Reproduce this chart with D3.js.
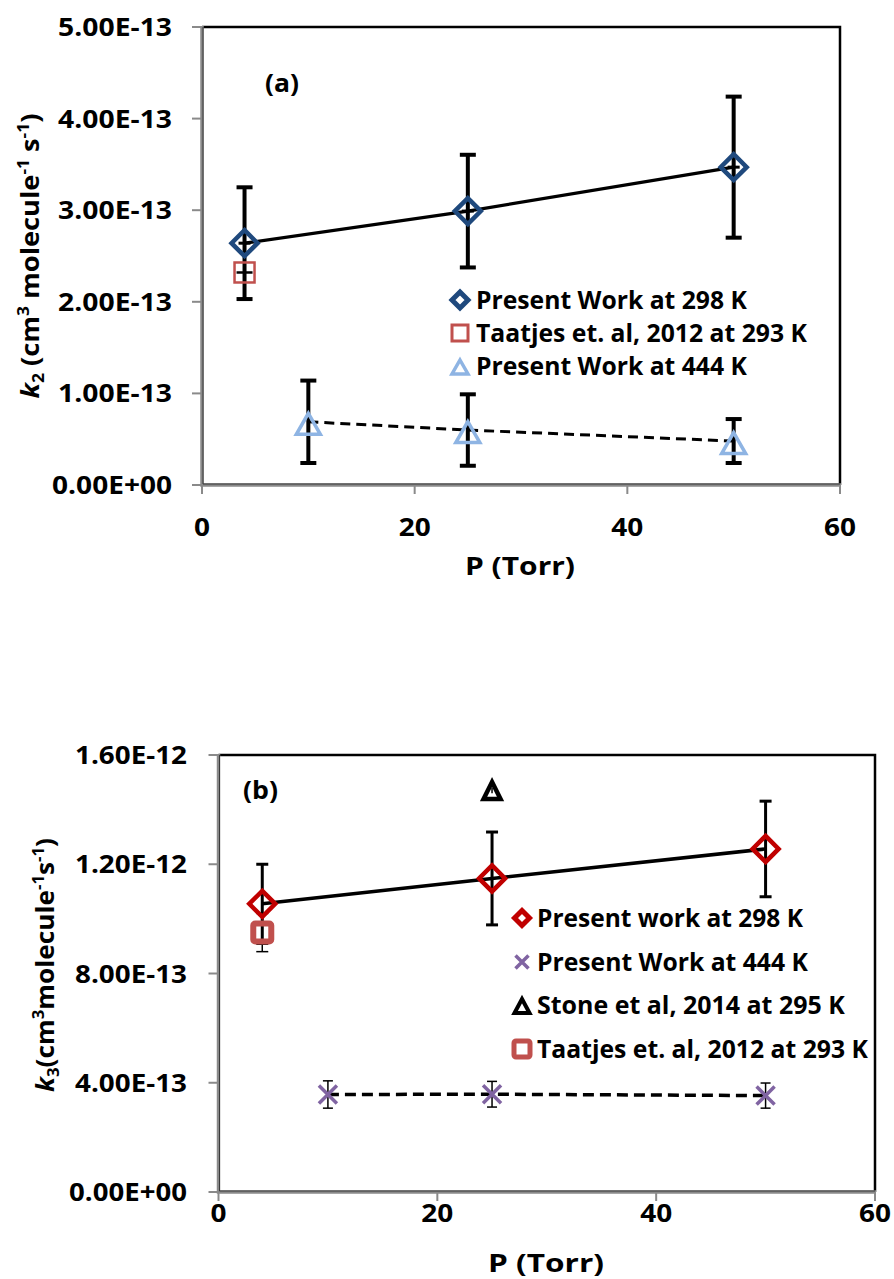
<!DOCTYPE html>
<html>
<head>
<meta charset="utf-8">
<script src="https://cdn.jsdelivr.net/npm/d3@7"></script>
<style>
  html, body { margin: 0; padding: 0; background: #ffffff; }
  svg { display: block; }
  text { font-family: "Open Sans", "Noto Sans", sans-serif; font-weight: bold; fill: #000; }
</style>
</head>
<body>
<svg id="chart" width="894" height="1279"></svg>
<script>
// ---------- DATA ----------
const xTicks = [0, 20, 40, 60];
const yTicksA = [0, 1e-13, 2e-13, 3e-13, 4e-13, 5e-13];
const yTicksB = [0, 4e-13, 8e-13, 1.2e-12, 1.6e-12];

// Panel (a): k2
const pA298 = [4, 25, 50];
const kA298 = [2.64e-13, 2.99e-13, 3.47e-13];
const errA298 = [0.61e-13, 0.615e-13, 0.77e-13];
const pA_Taatjes = [4];
const kA_Taatjes = [2.32e-13];
const pA444 = [10, 25, 50];
const kA444 = [0.69e-13, 0.60e-13, 0.48e-13];
const errA444 = [0.45e-13, 0.39e-13, 0.24e-13];
const legendA = ["Present Work at 298 K", "Taatjes et. al, 2012 at 293 K", "Present Work at 444 K"];

// Panel (b): k3
const pB298 = [4, 25, 50];
const kB298 = [1.055e-12, 1.148e-12, 1.256e-12];
const errB298 = [0.145e-12, 0.17e-12, 0.175e-12];
const pB444 = [10, 25, 50];
const kB444 = [3.57e-13, 3.58e-13, 3.53e-13];
const errB444 = [0.5e-13, 0.47e-13, 0.46e-13];
const pB_Stone = [25];
const kB_Stone = [1.47e-12];
const errB_Stone = [0.1e-13];
const pB_Taatjes = [4];
const kB_Taatjes = [9.5e-13];
const errB_Taatjes = [0.7e-13];
const legendB = ["Present work at 298 K", "Present Work at 444 K", "Stone et al, 2014 at 295 K", "Taatjes et. al, 2012 at 293 K"];

// ---------- HELPERS ----------
const svg = d3.select("#chart");
const FS = 25;

function fmtE(v) {
  const s = d3.format(".2e")(v);
  const [m, e] = s.split("e");
  const sign = e[0] === "-" ? "-" : "+";
  const num = Math.abs(parseInt(e, 10));
  return m + "E" + sign + String(num).padStart(2, "0");
}

function fitText(parent, x, y, parts, opts) {
  const g = parent.append("g")
    .attr("transform", `translate(${x},${y})` + (opts.rot ? ` rotate(${opts.rot})` : ""));
  const t = g.append("text")
    .attr("text-anchor", opts.anchor || "start")
    .attr("font-size", opts.size || FS);
  let shift = 0;
  parts.forEach(p => {
    const ts = t.append("tspan").text(p.t);
    let target = 0;
    if (p.sup) target = -10;
    if (p.sub) target = 5;
    if (target !== shift) { ts.attr("dy", target - shift); shift = target; }
    if (p.sup || p.sub) ts.attr("font-size", 16);
    if (p.italic) ts.attr("font-style", "italic");
  });
  if (opts.width) {
    const w = t.node().getComputedTextLength();
    if (w > 0) t.attr("transform", `scale(${opts.width / w},1)`);
  } else if (opts.sx) {
    t.attr("transform", `scale(${opts.sx},1)`);
  }
  return t;
}

function diamondPath(h) { return `M0,${-h}L${h},0L0,${h}L${-h},0Z`; }
function trianglePath(w, h) { return `M0,${-h}L${w/2},${h}L${-w/2},${h}Z`; }
function crossPath(a) { return `M${-a},${-a}L${a},${a}M${-a},${a}L${a},${-a}`; }

function drawFrame(g, x, y, yTicks, labelRight, yLabelWidths) {
  const [x0, x1] = x.range();
  const [y0, y1] = y.range();
  g.append("path").attr("d", `M${x0},${y1}L${x1},${y1}L${x1},${y0}`)
    .attr("fill", "none").attr("stroke", "#000").attr("stroke-width", 2.5);
  yTicks.forEach(v => {
    g.append("line").attr("x1", x0 - 10).attr("x2", x0).attr("y1", y(v)).attr("y2", y(v))
      .attr("stroke", "#8a8a8a").attr("stroke-width", 2);
    const lab = fmtE(v);
    fitText(g, labelRight, y(v) + 9, [{t: lab}], {anchor: "end", width: lab === "0.00E+00" ? yLabelWidths[1] : yLabelWidths[0]});
  });
  xTicks.forEach(v => {
    g.append("line").attr("x1", x(v)).attr("x2", x(v)).attr("y1", y0).attr("y2", y0 + 9)
      .attr("stroke", "#8a8a8a").attr("stroke-width", 2);
  });
  g.append("path").attr("d", `M${x0},${y1 - 1}L${x0},${y0}L${x1 + 1},${y0}`)
    .attr("fill", "none").attr("stroke", "#8a8a8a").attr("stroke-width", 3.5);
  g.append("path").attr("d", `M${x0 + 1},${y1}L${x0 + 1},${y0 - 1}L${x1},${y0 - 1}`)
    .attr("fill", "none").attr("stroke", "#3a3a3a").attr("stroke-width", 1);
}

function errBars(g, x, y, ps, ks, es, sw, capHalf, capW) {
  ps.forEach((p, i) => {
    const cx = x(p), top = y(ks[i] + es[i]), bot = y(ks[i] - es[i]);
    g.append("line").attr("x1", cx).attr("x2", cx).attr("y1", top).attr("y2", bot)
      .attr("stroke", "#000").attr("stroke-width", sw);
    [top, bot].forEach(yy => g.append("line")
      .attr("x1", cx - capHalf).attr("x2", cx + capHalf).attr("y1", yy).attr("y2", yy)
      .attr("stroke", "#000").attr("stroke-width", capW));
  });
}

// ---------- PANEL A ----------
const xA = d3.scaleLinear().domain([0, 60]).range([202, 840]);
const yA = d3.scaleLinear().domain([0, 5e-13]).range([485, 27]);
const gA = svg.append("g");
drawFrame(gA, xA, yA, yTicksA, 172, [114, 120]);
xTicks.forEach(v => fitText(gA, xA(v), 536, [{t: String(v)}], {anchor: "middle", sx: 1.12}));
fitText(gA, 520, 575, [{t: "P (Torr)"}], {anchor: "middle", width: 110});
fitText(gA, 39, 256, [
  {t: "k", italic: true}, {t: "2", sub: true}, {t: " (cm"}, {t: "3", sup: true},
  {t: " molecule"}, {t: "-1", sup: true}, {t: " s"}, {t: "-1", sup: true}, {t: ")"}
], {anchor: "middle", rot: -90, width: 285});
fitText(gA, 265, 92, [{t: "(a)"}], {anchor: "start", width: 34});

errBars(gA, xA, yA, pA298, kA298, errA298, 4, 8, 4);
errBars(gA, xA, yA, pA444, kA444, errA444, 4, 8, 4);
pA298.forEach((p, i) => gA.append("line").attr("x1", xA(p) - 6).attr("x2", xA(p) + 6)
  .attr("y1", yA(kA298[i])).attr("y2", yA(kA298[i])).attr("stroke", "#000").attr("stroke-width", 3));
pA_Taatjes.forEach((p, i) => gA.append("line").attr("x1", xA(p) - 8).attr("x2", xA(p) + 8)
  .attr("y1", yA(kA_Taatjes[i])).attr("y2", yA(kA_Taatjes[i])).attr("stroke", "#000").attr("stroke-width", 2.5));

const lineA298 = d3.line().x((d, i) => xA(pA298[i])).y(d => yA(d));
gA.append("path").attr("d", lineA298(kA298)).attr("fill", "none").attr("stroke", "#000").attr("stroke-width", 3.2);
const lineA444 = d3.line().x((d, i) => xA(pA444[i])).y(d => yA(d));
gA.append("path").attr("d", lineA444(kA444)).attr("fill", "none").attr("stroke", "#000")
  .attr("stroke-width", 3).attr("stroke-dasharray", "10,6");

pA298.forEach((p, i) => gA.append("path").attr("d", diamondPath(13))
  .attr("transform", `translate(${xA(p)},${yA(kA298[i])})`)
  .attr("fill", "none").attr("stroke", "#1F497D").attr("stroke-width", 4.5));
pA_Taatjes.forEach((p, i) => gA.append("rect")
  .attr("x", xA(p) - 10).attr("y", yA(kA_Taatjes[i]) - 10).attr("width", 20).attr("height", 20)
  .attr("fill", "none").attr("stroke", "#C0504D").attr("stroke-width", 2.5));
pA444.forEach((p, i) => gA.append("path").attr("d", trianglePath(24, 10.5))
  .attr("transform", `translate(${xA(p)},${yA(kA444[i]) + 2})`)
  .attr("fill", "none").attr("stroke", "#8EB4E3").attr("stroke-width", 3.5));

const legAx = 460, legAy = [300, 333, 366];
gA.append("path").attr("d", diamondPath(8)).attr("transform", `translate(${legAx},${legAy[0]})`)
  .attr("fill", "none").attr("stroke", "#1F497D").attr("stroke-width", 5);
gA.append("rect").attr("x", legAx - 8).attr("y", legAy[1] - 8).attr("width", 16).attr("height", 16)
  .attr("fill", "none").attr("stroke", "#C0504D").attr("stroke-width", 3);
gA.append("path").attr("d", trianglePath(16, 7)).attr("transform", `translate(${legAx},${legAy[2] + 1})`)
  .attr("fill", "none").attr("stroke", "#8EB4E3").attr("stroke-width", 3.5);
const legAW = [271, 331, 271];
legendA.forEach((s, i) => fitText(gA, 476, legAy[i] + 9, [{t: s}], {anchor: "start", width: legAW[i]}));

// ---------- PANEL B ----------
const xB = d3.scaleLinear().domain([0, 60]).range([218.5, 875]);
const yB = d3.scaleLinear().domain([0, 1.6e-12]).range([1192, 755]);
const gB = svg.append("g");
drawFrame(gB, xB, yB, yTicksB, 187, [112, 118]);
xTicks.forEach(v => fitText(gB, xB(v), 1222, [{t: String(v)}], {anchor: "middle", sx: 1.12}));
fitText(gB, 546, 1272, [{t: "P (Torr)"}], {anchor: "middle", width: 116});
fitText(gB, 54, 965, [
  {t: "k", italic: true}, {t: "3", sub: true}, {t: "(cm"}, {t: "3", sup: true},
  {t: "molecule"}, {t: "-1", sup: true}, {t: "s"}, {t: "-1", sup: true}, {t: ")"}
], {anchor: "middle", rot: -90, width: 254});
fitText(gB, 243, 799, [{t: "(b)"}], {anchor: "start", width: 35});

errBars(gB, xB, yB, pB298, kB298, errB298, 3, 6, 3);
errBars(gB, xB, yB, pB444, kB444, errB444, 1.5, 5, 1.5);
errBars(gB, xB, yB, pB_Taatjes, kB_Taatjes, errB_Taatjes, 1.5, 6, 1.5);
errBars(gB, xB, yB, pB_Stone, kB_Stone, errB_Stone, 1.5, 0, 0);

const lineB298 = d3.line().x((d, i) => xB(pB298[i])).y(d => yB(d));
gB.append("path").attr("d", lineB298(kB298)).attr("fill", "none").attr("stroke", "#000").attr("stroke-width", 3.5);
const lineB444 = d3.line().x((d, i) => xB(pB444[i])).y(d => yB(d));
gB.append("path").attr("d", lineB444(kB444)).attr("fill", "none").attr("stroke", "#000")
  .attr("stroke-width", 3.5).attr("stroke-dasharray", "11,6");

pB298.forEach((p, i) => gB.append("path").attr("d", diamondPath(13))
  .attr("transform", `translate(${xB(p)},${yB(kB298[i])})`)
  .attr("fill", "none").attr("stroke", "#C00000").attr("stroke-width", 4.5));
pB_Taatjes.forEach((p, i) => gB.append("rect")
  .attr("x", xB(p) - 9).attr("y", yB(kB_Taatjes[i]) - 9).attr("width", 18).attr("height", 18).attr("rx", 2)
  .attr("fill", "none").attr("stroke", "#C0504D").attr("stroke-width", 6));
pB444.forEach((p, i) => gB.append("path").attr("d", crossPath(9))
  .attr("transform", `translate(${xB(p)},${yB(kB444[i])})`)
  .attr("fill", "none").attr("stroke", "#8064A2").attr("stroke-width", 3.5));
pB_Stone.forEach((p, i) => gB.append("path").attr("d", trianglePath(17, 8.5))
  .attr("transform", `translate(${xB(p)},${yB(kB_Stone[i])})`)
  .attr("fill", "none").attr("stroke", "#000").attr("stroke-width", 4.5));

const legBx = 522, legBy = [918, 962, 1005, 1049];
gB.append("path").attr("d", diamondPath(7.5)).attr("transform", `translate(${legBx},${legBy[0]})`)
  .attr("fill", "none").attr("stroke", "#C00000").attr("stroke-width", 5);
gB.append("path").attr("d", crossPath(6.5)).attr("transform", `translate(${legBx},${legBy[1]})`)
  .attr("fill", "none").attr("stroke", "#8064A2").attr("stroke-width", 3.5);
gB.append("path").attr("d", trianglePath(15, 7)).attr("transform", `translate(${legBx},${legBy[2] + 1})`)
  .attr("fill", "none").attr("stroke", "#000").attr("stroke-width", 4);
gB.append("rect").attr("x", legBx - 8).attr("y", legBy[3] - 8).attr("width", 16).attr("height", 16).attr("rx", 2)
  .attr("fill", "none").attr("stroke", "#C0504D").attr("stroke-width", 5);
const legBW = [266, 271, 308, 331];
legendB.forEach((s, i) => fitText(gB, 537, legBy[i] + 9, [{t: s}], {anchor: "start", width: legBW[i]}));
</script>
</body>
</html>
